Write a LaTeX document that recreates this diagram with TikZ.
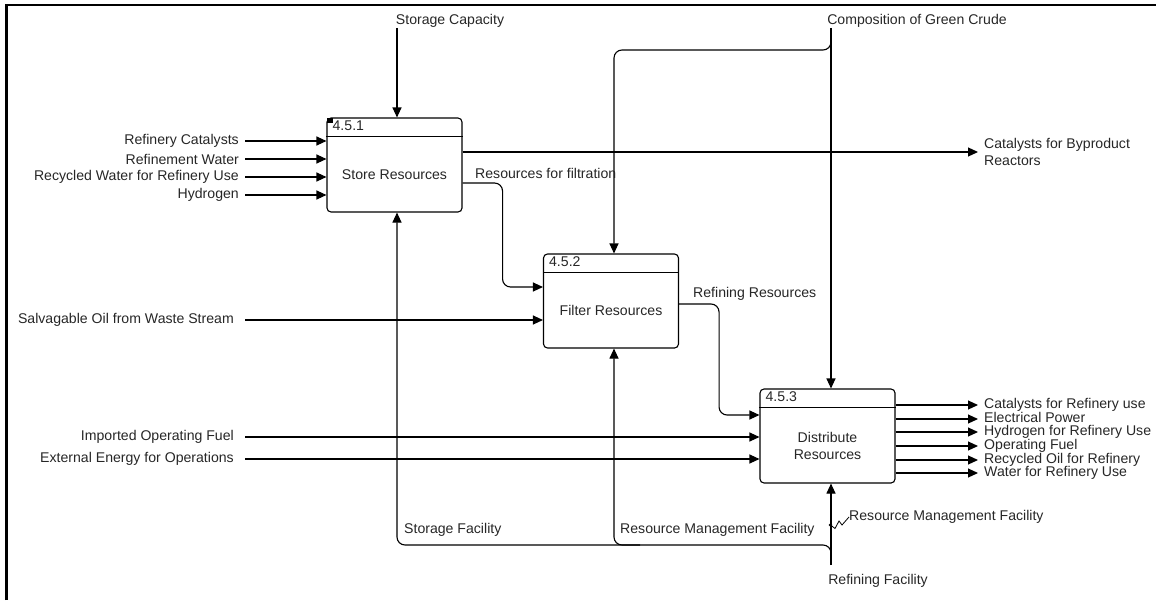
\documentclass[tikz,border=0pt]{standalone}
\usepackage{fontspec}
\setmainfont{Liberation Sans}
\usetikzlibrary{arrows.meta}
\tikzset{
  act/.style={draw, rounded corners=4pt, minimum width=135pt, minimum height=94pt, line width=1.1pt},
  lbl/.style={font=\fontsize{14.1}{17}\selectfont, inner sep=0pt, text=black!85},
  olbl/.style={lbl, text height=8.5pt, text depth=2.2pt},
  flow/.style={line width=1.1pt, -{Triangle[length=10pt,width=9pt]}},
  link/.style={line width=1.1pt, rounded corners=8pt}
}
\begin{document}
\begin{tikzpicture}[x=1pt,y=-1pt]
  \useasboundingbox (0,0) rectangle (1156,600);
  \draw[line width=2.5pt] (6.5,600) -- (6.5,5) -- (1156,5);

  \node[act] (b451) at (394.5,165) {};
  \node[act] (b452) at (611,301) {};
  \node[act] (b453) at (827.5,436) {};
  \foreach \b/\n/\t in {b451/4.5.1/Store Resources, b452/4.5.2/Filter Resources, b453/4.5.3/{Distribute\\Resources}}{
    \draw[line width=1.1pt] ([yshift=-19pt]\b.north west) -- ([yshift=-19pt]\b.north east);
    \node[lbl, anchor=north west] (\b n) at ([shift={(6pt,-3pt)}]\b.north west) {\n};
    \node[lbl, align=center] (\b t) at ([yshift=-9.5pt]\b.center) {\t};
  }
  \fill (327,117.5) rectangle (332.5,123);

  \node[lbl] (sc) at (450,21) {Storage Capacity};
  \draw[flow] ([xshift=2.5pt]b451.north |- sc.south) -- ([xshift=2.5pt]b451.north);

  \node[lbl] (cgc) at (917,21) {Composition of Green Crude};
  \draw[flow] ([xshift=3.5pt]b453.north |- cgc.south) -- ([xshift=3.5pt]b453.north);
  \coordinate (cg) at (831,38);
  \draw[flow, link] (cg) |- (614,50) -- ([xshift=3pt]b452.north);

  \foreach \y/\t/\n in {141/Refinery Catalysts/rc, 159/Refinement Water/rw, 177/Recycled Water for Refinery Use/rwr, 195/Hydrogen/hy}{
    \node[lbl, anchor=east] (\n) at (239,\y) {\t};
    \draw[flow] ([xshift=6pt]\n.east) -- (\n.east -| b451.west);
  }

  \node[lbl, anchor=west, align=left] (cbr) at (984,152) {Catalysts for Byproduct\\Reactors};
  \draw[flow] (b451.east |- cbr.west) -- ([xshift=-6pt]cbr.west);

  \node[lbl, anchor=west] (rff) at (475,173) {Resources for filtration};
  \draw[flow, link] ([yshift=-18pt]b451.east) -- ++(40,0) |- ([yshift=14pt]b452.west);

  \node[lbl, anchor=east] (so) at (234,320) {Salvagable Oil from Waste Stream};
  \draw[flow] ([xshift=11pt]so.east) -- (so.east -| b452.west);

  \node[lbl, anchor=west] (rr) at (693,294) {Refining Resources};
  \draw[flow, link] ([yshift=-3pt]b452.east) -- ++(40,0) |- ([yshift=21pt]b453.west);

  \node[lbl, anchor=east] (iof) at (234,437) {Imported Operating Fuel};
  \draw[flow] ([xshift=11pt]iof.east) -- (iof.east -| b453.west);
  \node[lbl, anchor=east] (eeo) at (234,459) {External Energy for Operations};
  \draw[flow] ([xshift=11pt]eeo.east) -- (eeo.east -| b453.west);

  \foreach \y/\t/\n in {405/Catalysts for Refinery use/o1, 419/Electrical Power/o2, 432/Hydrogen for Refinery Use/o3, 446/Operating Fuel/o4, 460/Recycled Oil for Refinery/o5, 473/Water for Refinery Use/o6}{
    \node[olbl, anchor=west] (\n) at (984,\y) {\t};
    \draw[flow] (\n.west -| b453.east) -- ([xshift=-6pt]\n.west);
  }

  \node[lbl] (rfac) at (878,581) {Refining Facility};
  \draw[flow] ([xshift=3.5pt]b453.south |- 0,565) -- ([xshift=3.5pt]b453.south);
  \coordinate (rf) at (831,558);
  \draw[flow, link] (rf) |- (397,545) -- ([xshift=2.5pt]b451.south);
  \draw[flow, link] (640,545) -| ([xshift=3pt]b452.south);
  \node[lbl, anchor=west] (sf) at (404,530) {Storage Facility};
  \node[lbl, anchor=west] (rmf) at (620,530) {Resource Management Facility};

  \fill (830.5,525) circle (1.8pt);
  \node[lbl, anchor=west] (rmf2) at (849,517) {Resource Management Facility};
  \draw[line width=0.8pt] (830.5,525) -- (835,528.5) -- (839,521) -- (842,525) -- (rmf2.west);
\end{tikzpicture}
\end{document}
